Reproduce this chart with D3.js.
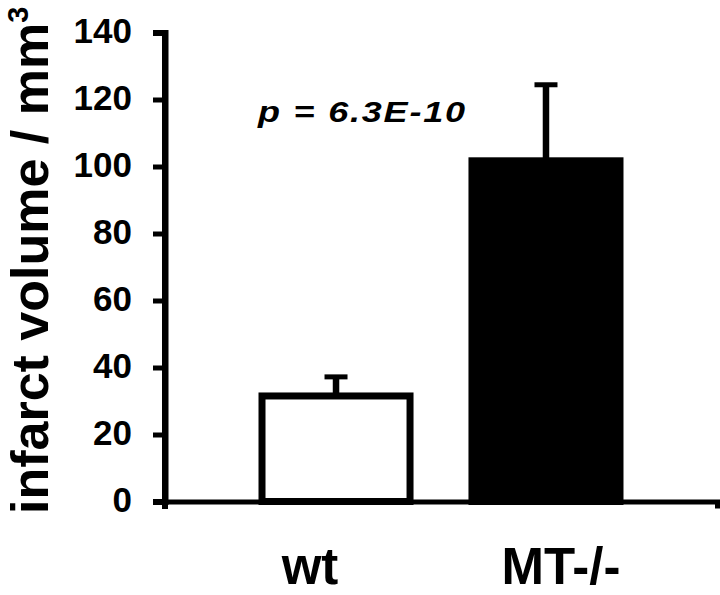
<!DOCTYPE html>
<html>
<head>
<meta charset="utf-8">
<script src="https://cdn.jsdelivr.net/npm/d3@7"></script>
<style>
  html, body { margin: 0; padding: 0; background: #fff; }
  svg { display: block; font-family: "Liberation Sans", Arial, sans-serif; }
</style>
</head>
<body>
<div id="chart"></div>
<script>
// chart data
const groups = ["wt", "MT-/-"];
const means = [31.5, 101.7];
const errors = [5.7, 22.7];
const barFills = ["#fff", "#000"];
const yTicks = [0, 20, 40, 60, 80, 100, 120, 140];
const yTitle = "infarct volume / mm";
const yTitleSup = "3";
const pLabel = "p = 6.3E-10";

const width = 720, height = 595;

const svg = d3.select("#chart").append("svg")
    .attr("width", width)
    .attr("height", height);

const y = d3.scaleLinear().domain([0, 140]).range([501.5, 32.5]);
const x = d3.scaleBand().domain(groups).range([165, 717])
    .paddingInner(0.295).paddingOuter(0.462);

// bars
svg.append("g")
    .selectAll("rect")
    .data(groups)
    .join("rect")
    .attr("x", d => x(d))
    .attr("y", (d, i) => y(means[i]))
    .attr("width", x.bandwidth())
    .attr("height", (d, i) => y(0) - y(means[i]))
    .attr("fill", (d, i) => barFills[i])
    .attr("stroke", "#000")
    .attr("stroke-width", 7);

// upper error bars
const err = svg.append("g").attr("stroke", "#000");
groups.forEach((g, i) => {
    const cx = x(g) + x.bandwidth() / 2;
    err.append("line")
        .attr("x1", cx).attr("x2", cx)
        .attr("y1", y(means[i])).attr("y2", y(means[i] + errors[i]))
        .attr("stroke-width", 6.5);
    err.append("line")
        .attr("x1", cx - 11.5).attr("x2", cx + 11.5)
        .attr("y1", y(means[i] + errors[i])).attr("y2", y(means[i] + errors[i]))
        .attr("stroke-width", 5);
});

// x axis (line only, with end ticks)
const xAxis = svg.append("g")
    .attr("transform", `translate(0,${y(0)})`)
    .call(d3.axisBottom(x).tickSizeInner(0).tickSizeOuter(7).tickFormat(""));
xAxis.select(".domain").attr("stroke-width", 5);

// y axis
const yAxis = svg.append("g")
    .attr("transform", "translate(165,0)")
    .call(d3.axisLeft(y).tickValues(yTicks).tickSizeOuter(0).tickSize(12).tickPadding(21));
yAxis.select(".domain").attr("stroke-width", 6);
yAxis.selectAll(".tick line").attr("stroke-width", 5);
yAxis.selectAll(".tick text")
    .attr("font-size", 35)
    .attr("font-weight", "bold")
    .attr("font-family", "Liberation Sans, Arial, sans-serif")
    .attr("fill", "#000")
    .attr("dy", "0.28em");
// axis line runs a bit below the x axis
yAxis.append("line")
    .attr("x1", 0).attr("x2", 0)
    .attr("y1", y(140)).attr("y2", y(0) + 7.5)
    .attr("stroke", "#000").attr("stroke-width", 6);

// category labels
const labelShift = { "wt": -26, "MT-/-": 15 };
svg.append("g")
    .selectAll("text")
    .data(groups)
    .join("text")
    .attr("x", d => x(d) + x.bandwidth() / 2 + labelShift[d])
    .attr("y", 584)
    .attr("text-anchor", "middle")
    .attr("font-size", 51)
    .attr("font-weight", "bold")
    .text(d => d);

// y title
const title = svg.append("text")
    .attr("transform", "translate(48,514) rotate(-90)")
    .attr("font-size", 52)
    .attr("font-weight", "bold")
    .text(yTitle);
title.append("tspan")
    .attr("dy", -20)
    .attr("font-size", 29)
    .text(yTitleSup);

// p value
svg.append("text")
    .attr("transform", "translate(258,122) scale(1.2,1)")
    .attr("font-size", 30)
    .attr("font-weight", "bold")
    .attr("font-style", "italic")
    .attr("letter-spacing", 1.5)
    .text(pLabel);
</script>
</body>
</html>
